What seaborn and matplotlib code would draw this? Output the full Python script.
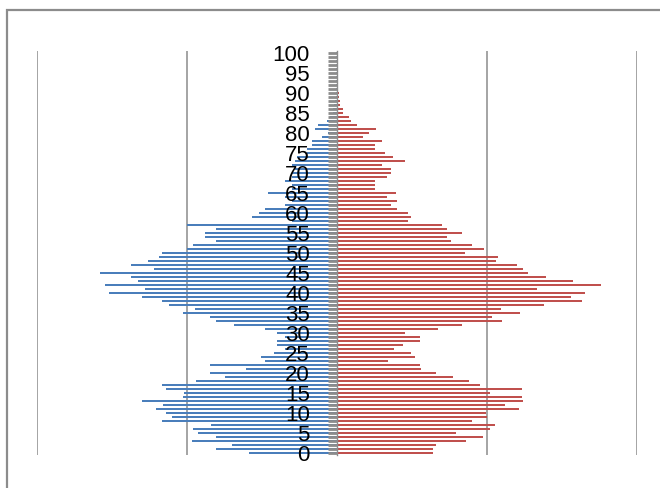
import matplotlib
matplotlib.use("Agg")
import matplotlib.pyplot as plt
import numpy as np
import pandas as pd
import seaborn as sns
from matplotlib.patches import Rectangle

# ages 0..100, one bar per year
ages = list(range(101))

# left side (blue) in grid units
left_vals = [
    0.59, 0.81, 0.70, 0.97, 0.81, 0.93, 0.96, 0.84, 1.17, 1.10,
    1.14, 1.21, 1.16, 1.30, 1.03, 1.02, 1.14, 1.17, 0.94, 0.75,
    0.85, 0.61, 0.85, 0.48, 0.51, 0.42, 0.35, 0.40, 0.40, 0.35,
    0.40, 0.48, 0.69, 0.81, 0.85, 1.03, 0.95, 1.12, 1.17, 1.30,
    1.52, 1.28, 1.55, 1.33, 1.37, 1.58, 1.22, 1.37, 1.26, 1.19,
    1.17, 1.00, 0.96, 0.81, 0.88, 0.88, 0.81, 1.00, 0.30, 0.57,
    0.52, 0.48, 0.35, 0.30, 0.35, 0.46, 0.30, 0.30, 0.35, 0.30,
    0.30, 0.28, 0.30, 0.28, 0.27, 0.20, 0.20, 0.17, 0.17, 0.10,
    0.06, 0.15, 0.13, 0.07, 0.05, 0.03, 0.025, 0.02, 0.015, 0.01,
    0.008, 0.005, 0.005, 0.005, 0.005, 0.005, 0.005, 0.005, 0.005, 0.005,
    0.005,
]

# right side (red)
right_vals = [
    0.64, 0.64, 0.66, 0.86, 0.97, 0.79, 1.02, 1.05, 0.90, 1.00,
    0.99, 1.21, 1.12, 1.24, 1.23, 1.02, 1.23, 0.95, 0.88, 0.77,
    0.66, 0.56, 0.55, 0.34, 0.52, 0.49, 0.38, 0.44, 0.55, 0.55,
    0.45, 0.67, 0.83, 1.10, 1.03, 1.22, 1.09, 1.38, 1.63, 1.56,
    1.65, 1.33, 1.76, 1.57, 1.39, 1.27, 1.24, 1.20, 1.06, 1.07,
    0.85, 0.98, 0.90, 0.76, 0.73, 0.83, 0.73, 0.70, 0.47, 0.49,
    0.47, 0.40, 0.36, 0.40, 0.33, 0.39, 0.25, 0.25, 0.25, 0.33,
    0.36, 0.36, 0.30, 0.45, 0.37, 0.32, 0.25, 0.25, 0.30, 0.17,
    0.21, 0.26, 0.13, 0.09, 0.08, 0.04, 0.04, 0.02, 0.02, 0.01,
    0.015, 0.005, 0.005, 0.005, 0.005, 0.005, 0.005, 0.005, 0.005, 0.005,
    0.005,
]

tick_labels = ["0", "5", "10", "15", "20", "25", "30", "35", "40", "45", "50",
               "55", "60", "65", "70", "75", "80", "85", "90", "95", "100"]
grid_at = [-2, -1, 1, 2]

sns.set_theme(style="white")
plt.rcParams["font.family"] = ["Liberation Sans", "DejaVu Sans"]

df = pd.DataFrame({"age": ages,
                   "left": -np.array(left_vals),
                   "right": np.array(right_vals)})

fig = plt.figure(figsize=(6.6, 4.88), dpi=100)
ax = fig.add_axes([37 / 660, 1 - 455 / 488, 600 / 660, 404 / 488])

grey = "#8c8c8c"
sns.barplot(data=df, x="left", y="age", orient="h", native_scale=True,
            color="#4a7ebb", width=0.55, linewidth=0, errorbar=None,
            saturation=1, ax=ax)
sns.barplot(data=df, x="right", y="age", orient="h", native_scale=True,
            color="#c0504d", width=0.55, linewidth=0, errorbar=None,
            saturation=1, ax=ax)

ax.set_xlim(-2, 2)
ax.set_ylim(-0.5, 100.5)
ax.set_xlabel(None)
ax.set_ylabel(None)

# vertical gridlines only, behind the bars
ax.grid(False)
for gx in grid_at:
    ax.axvline(gx, color=grey, linewidth=1.1, zorder=0)
ax.set_xticks([])
ax.set_axisbelow(False)

# category axis sits at zero, ticks on top of the bars
for side in ["top", "right", "bottom"]:
    ax.spines[side].set_visible(False)
ax.spines["left"].set_position(("data", 0))
ax.spines["left"].set_color(grey)
ax.spines["left"].set_linewidth(1.0)

ax.set_yticks(np.arange(0, 101, 5))
ax.set_yticklabels(tick_labels)
ax.set_yticks(ages, minor=True)
ax.tick_params(axis="y", which="both", left=True, direction="out", length=6.5,
               width=2.0, color=grey, pad=13, labelsize=16, labelcolor="black")

# chart frame, partly cut off on the right and bottom
fig.patches.append(Rectangle((7 / 660, -0.1), 1.2, 1 - 10 / 488 + 0.1,
                             transform=fig.transFigure, fill=False,
                             edgecolor=grey, linewidth=1.6, zorder=0))

fig.savefig("out.png", dpi=100)
